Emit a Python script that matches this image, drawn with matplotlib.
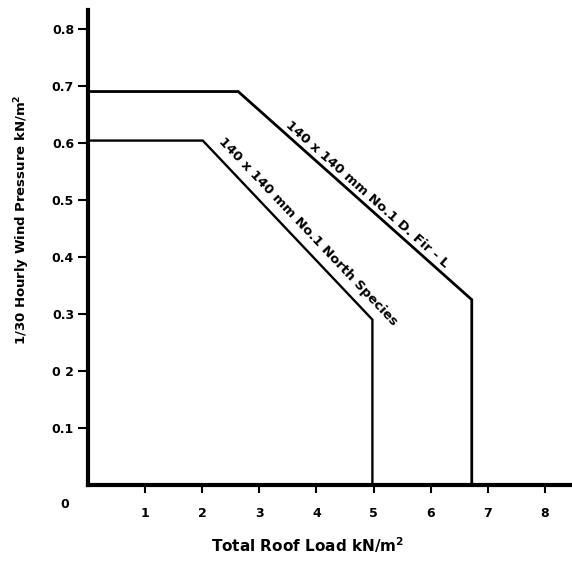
import numpy as np
import matplotlib
matplotlib.use("Agg")
import matplotlib.pyplot as plt

# curves (total roof load kN/m2 -> wind pressure kN/m2)
fir_load = [0, 2.63, 6.72, 6.72]
fir_pressure = [0.69, 0.69, 0.325, 0]
north_load = [0, 2.01, 4.98, 4.98]
north_pressure = [0.604, 0.604, 0.29, 0]

fir_label = "140 x 140 mm No.1 D. Fir - L"
north_label = "140 x 140 mm No.1 North Species"

x_ticks = [1, 2, 3, 4, 5, 6, 7, 8]
y_ticks = [0.1, 0.2, 0.3, 0.4, 0.5, 0.6, 0.7, 0.8]
y_tick_labels = ["0.1", "0 2", "0.3", "0.4", "0.5", "0.6", "0.7", "0.8"]

plt.rcParams['font.family'] = ['DejaVu Sans']
plt.rcParams['font.weight'] = 'bold'

fig = plt.figure(figsize=(5.72, 5.63), dpi=100)
ax = fig.add_axes([88 / 572, 78 / 563, (570 - 88) / 572, (485 - 10) / 563])
ax.set_xlim(0, 8.44)
ax.set_ylim(0, 0.833)

ax.plot(fir_load, fir_pressure, color='black', lw=2.0, solid_joinstyle='miter')
ax.plot(north_load, north_pressure, color='black', lw=1.7, solid_joinstyle='miter')

for side in ['top', 'right']:
    ax.spines[side].set_visible(False)
for side in ['left', 'bottom']:
    ax.spines[side].set_linewidth(3)

ax.set_xticks(x_ticks)
ax.set_xticklabels([str(t) for t in x_ticks], fontsize=9, fontweight='bold')
ax.set_yticks(y_ticks)
ax.set_yticklabels(y_tick_labels, fontsize=9, fontweight='bold')
ax.tick_params(axis='x', direction='out', length=6, width=1.5, pad=10)
ax.tick_params(axis='y', direction='out', length=7, width=1.5, pad=3)

fig.text(65 / 572, 1 - 505 / 563, "0", fontsize=9, fontweight='bold',
         ha='center', va='center')
fig.text(308 / 572, 1 - 545 / 563, "Total Roof Load kN/m$^\\mathbf{2}$",
         fontsize=11, fontweight='bold', ha='center', va='center')
fig.text(22 / 572, 1 - 220 / 563, "1/30 Hourly Wind Pressure kN/m$^\\mathbf{2}$",
         fontsize=9.5, fontweight='bold', rotation=90, ha='center', va='center')


def slope_angle(x0, y0, x1, y1):
    p0 = ax.transData.transform((x0, y0))
    p1 = ax.transData.transform((x1, y1))
    return np.degrees(np.arctan2(p1[1] - p0[1], p1[0] - p0[0]))


fig.canvas.draw()
a_fir = slope_angle(fir_load[1], fir_pressure[1], fir_load[2], fir_pressure[2])
a_north = slope_angle(north_load[1], north_pressure[1], north_load[2], north_pressure[2])

ax.text(4.89, 0.509, fir_label, rotation=a_fir, rotation_mode='anchor',
        ha='center', va='center', fontsize=9.5, fontweight='bold')
ax.text(3.85, 0.444, north_label, rotation=a_north, rotation_mode='anchor',
        ha='center', va='center', fontsize=9.5, fontweight='bold')

fig.savefig("out.png", dpi=100)
